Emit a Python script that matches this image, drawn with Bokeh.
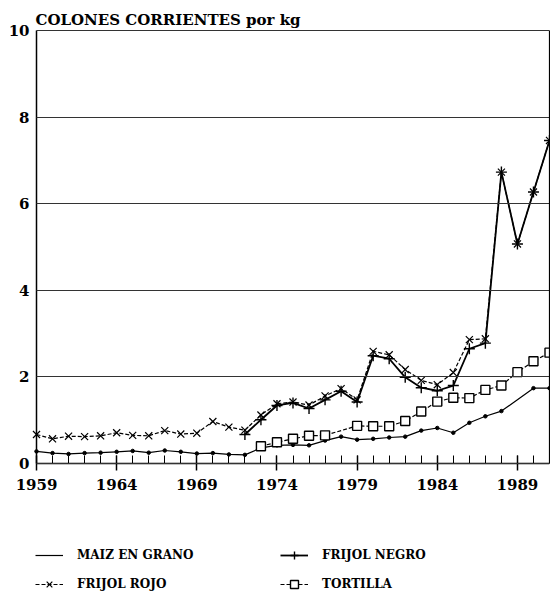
from bokeh.plotting import figure
from bokeh.models import Range1d, FixedTicker, Legend, LegendItem, LinearAxis, Label
from bokeh.embed import file_html
from bokeh.resources import INLINE

# ---- data ----
maiz_years = [1959, 1960, 1961, 1962, 1963, 1964, 1965, 1966, 1967, 1968, 1969,
              1970, 1971, 1972, 1973, 1974, 1975, 1976, 1977, 1978, 1979, 1980,
              1981, 1982, 1983, 1984, 1985, 1986, 1987, 1988, 1990, 1991]
maiz = [0.28, 0.24, 0.22, 0.24, 0.25, 0.27, 0.29, 0.25, 0.30, 0.27, 0.23,
        0.24, 0.21, 0.20, 0.36, 0.42, 0.43, 0.42, 0.53, 0.62, 0.55, 0.57,
        0.60, 0.62, 0.76, 0.82, 0.71, 0.94, 1.09, 1.21, 1.74, 1.74]

rojo_years = list(range(1959, 1992))
frijol_rojo = [0.67, 0.57, 0.63, 0.62, 0.64, 0.71, 0.65, 0.64, 0.76, 0.68, 0.70,
               0.97, 0.84, 0.77, 1.12, 1.38, 1.42, 1.35, 1.56, 1.73, 1.47, 2.59,
               2.51, 2.17, 1.92, 1.82, 2.10, 2.86, 2.88, 6.73, 5.07, 6.27, 7.46]

negro_years = list(range(1972, 1992))
frijol_negro = [0.67, 1.01, 1.34, 1.40, 1.27, 1.47, 1.67, 1.42, 2.49, 2.42,
                1.99, 1.75, 1.68, 1.80, 2.65, 2.78, 6.73, 5.07, 6.27, 7.46]

tortilla_years = [1973, 1974, 1975, 1976, 1977, 1979, 1980, 1981, 1982, 1983,
                  1984, 1985, 1986, 1987, 1988, 1989, 1990, 1991]
tortilla = [0.40, 0.49, 0.57, 0.64, 0.65, 0.87, 0.86, 0.86, 0.98, 1.20,
            1.43, 1.52, 1.51, 1.70, 1.80, 2.11, 2.36, 2.56]

x_major = [1959, 1964, 1969, 1974, 1979, 1984, 1989]
y_major = [0, 2, 4, 6, 8, 10]

title_text = "COLONES CORRIENTES por kg"
labels = ["MAIZ EN GRANO", "FRIJOL ROJO", "FRIJOL NEGRO", "TORTILLA"]

SERIF = "DejaVu Serif"

# Layout: the frame covers the whole canvas so that the title, tick labels and the
# legend (all outside the 1959..1991 x 0..10 chart box) are not clipped.
W, H = 550, 596
BOX_L, BOX_R, BOX_T, BOX_B = 36, 549, 30, 463   # chart box in pixels
X0, X1, Y0, Y1 = 1959, 1991, 0, 10
px_x = (BOX_R - BOX_L) / (X1 - X0)
px_y = (BOX_B - BOX_T) / (Y1 - Y0)

p = figure(width=W, height=H, output_backend="svg", toolbar_location=None,
           x_range=Range1d(X0 - BOX_L / px_x, X1),
           y_range=Range1d(Y0 - (H - BOX_B) / px_y, Y1 + BOX_T / px_y),
           min_border_left=0, min_border_right=W - BOX_R, min_border_top=0,
           min_border_bottom=0)

p.background_fill_color = "white"
p.border_fill_color = "white"
p.outline_line_color = None
p.xgrid.grid_line_color = None
p.ygrid.grid_line_color = None

# title (screen units, measured from the frame's bottom-left corner)
title = Label(x=35, y=H - 19, x_units="screen", y_units="screen", text=title_text,
              text_font=SERIF, text_font_style="bold", text_font_size="15px",
              text_color="black", text_baseline="alphabetic", text_align="left")
p.add_layout(title)

# x axis, pinned to y = 0
xa = p.xaxis[0]
xa.fixed_location = Y0
xa.bounds = (X0, X1)
xa.ticker = FixedTicker(ticks=x_major, minor_ticks=list(range(X0, X1 + 1)))
xa.major_tick_in = 8
xa.major_tick_out = 7
xa.minor_tick_in = 8
xa.minor_tick_out = 0
xa.major_label_standoff = 8
xa.major_label_text_font = SERIF
xa.major_label_text_font_style = "bold"
xa.major_label_text_font_size = "15px"
xa.major_label_text_color = "black"
xa.axis_line_width = 1.5
xa.axis_line_color = "black"
xa.major_tick_line_color = "black"
xa.minor_tick_line_color = "black"
xa.major_tick_line_width = 1.5
xa.minor_tick_line_width = 1

# y axis, pinned to x = 1959; its inward ticks run across the box as the grid lines
ya = p.yaxis[0]
ya.fixed_location = X0
ya.bounds = (Y0, Y1)
ya.ticker = FixedTicker(ticks=y_major, minor_ticks=[])
ya.major_tick_in = BOX_R - BOX_L
ya.major_tick_out = 0
ya.minor_tick_in = 0
ya.minor_tick_out = 0
ya.major_tick_line_color = "#333333"
ya.major_tick_line_width = 1
ya.major_label_standoff = 7
ya.major_label_text_font = SERIF
ya.major_label_text_font_style = "bold"
ya.major_label_text_font_size = "15px"
ya.major_label_text_color = "black"
ya.axis_line_width = 1.5
ya.axis_line_color = "black"

# right border of the chart box
ra = LinearAxis(ticker=FixedTicker(ticks=[]), bounds=(Y0, Y1),
                axis_line_color="black", axis_line_width=1.2,
                major_tick_in=0, major_tick_out=0, minor_tick_in=0, minor_tick_out=0,
                major_label_standoff=0)
p.add_layout(ra, "right")

# series
l1 = p.line(maiz_years, maiz, line_color="black", line_width=1.2)
s1 = p.scatter(maiz_years, maiz, marker="circle", size=3.5, color="black")

l2 = p.line(rojo_years, frijol_rojo, line_color="black", line_width=1.2, line_dash="4 2")
s2 = p.scatter(rojo_years, frijol_rojo, marker="x", size=10, line_color="black", line_width=1.2)

l3 = p.line(negro_years, frijol_negro, line_color="black", line_width=1.8)
s3 = p.scatter(negro_years, frijol_negro, marker="cross", size=11, line_color="black", line_width=1.4)

l4 = p.line(tortilla_years, tortilla, line_color="black", line_width=1.2, line_dash="4 2")
s4 = p.scatter(tortilla_years, tortilla, marker="square", size=9, line_color="black",
               fill_color="white", line_width=1.4)

legend = Legend(items=[
    LegendItem(label=labels[0], renderers=[l1]),
    LegendItem(label=labels[1], renderers=[l2, s2]),
    LegendItem(label=labels[2], renderers=[l3, s3]),
    LegendItem(label=labels[3], renderers=[l4, s4]),
], location=(35, 2), ncols=2)
legend.border_line_color = None
legend.background_fill_alpha = 0
legend.padding = 0
legend.margin = 0
legend.glyph_width = 28
legend.glyph_height = 20
legend.spacing = 9
legend.label_standoff = 14
legend.label_width = 194
legend.label_text_font = SERIF
legend.label_text_font_style = "bold"
legend.label_text_font_size = "12px"
legend.label_text_color = "black"
p.add_layout(legend, "center")

open("out.html", "w").write(file_html(p, INLINE))
